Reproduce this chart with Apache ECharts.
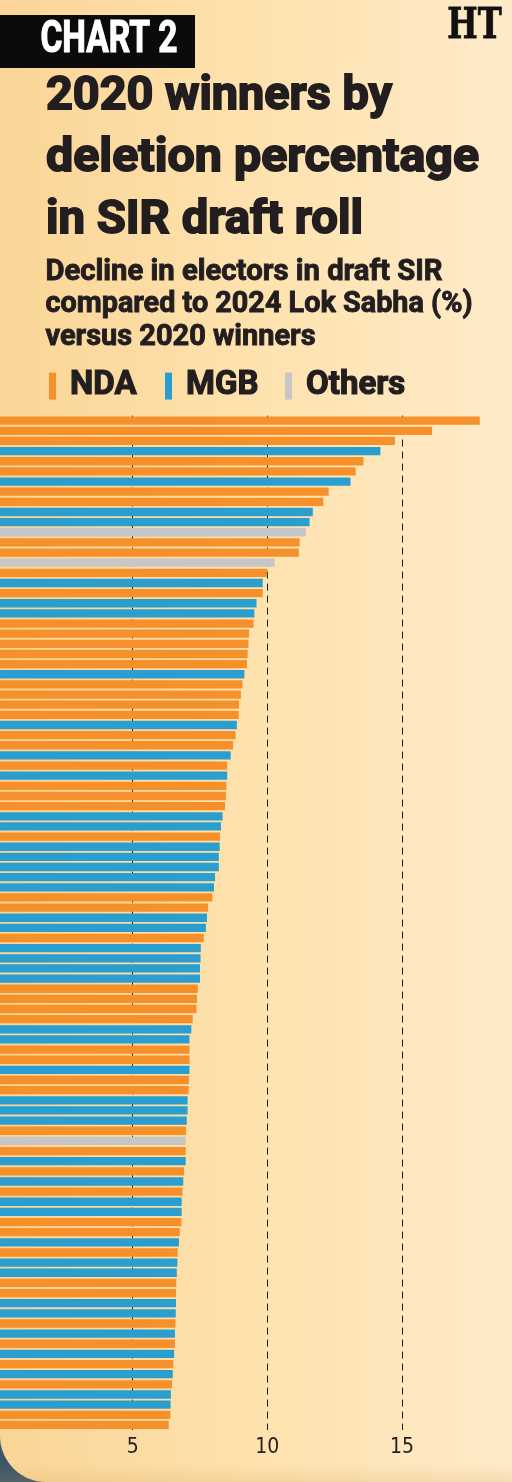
<!DOCTYPE html>
<html>
<head>
<meta charset="utf-8">
<script src="https://cdn.jsdelivr.net/npm/echarts@6/dist/echarts.min.js"></script>
<style>
html,body{margin:0;padding:0;background:#3d566a;}
#chart{width:512px;height:1482px;}
</style>
</head>
<body>
<div id="chart"></div>
<script>
// ---- data ----
const values = [
  17.89,16.12,14.74,14.2,13.57,13.28,13.09,12.28,12.08,11.69,
  11.57,11.43,11.2,11.17,10.27,10.0,9.83,9.83,9.6,9.52,
  9.49,9.32,9.3,9.27,9.25,9.15,9.08,9.02,8.95,8.94,
  8.87,8.82,8.73,8.64,8.51,8.51,8.48,8.46,8.43,8.34,
  8.28,8.24,8.23,8.2,8.2,8.06,8.02,7.96,7.8,7.76,
  7.72,7.64,7.53,7.52,7.5,7.5,7.42,7.39,7.37,7.23,
  7.18,7.11,7.11,7.11,7.11,7.09,7.08,7.04,7.04,7.01,
  6.98,6.97,6.97,6.97,6.91,6.88,6.85,6.82,6.82,6.81,
  6.75,6.72,6.67,6.66,6.64,6.62,6.61,6.61,6.6,6.59,
  6.57,6.57,6.54,6.51,6.49,6.46,6.42,6.41,6.4,6.34
];
// N = NDA, M = MGB, O = Others (one code per bar, top to bottom)
const allianceCodes = (
  "NNNMNNMNNMMONNONMNMM" +
  "NNNNNMNNNN" + "MNNMNMNNNM" + "MNMMMMMNNM" + "MNMMMMNNNN" +
  "MMNNMNNMMM" + "NONMNMNMMN" + "NMNMMNNMMN" + "MNMNMNMMNN"
).split('');
const categories = values.map((_, i) => 'Seat ' + (i + 1));
const groupNames = ['NDA', 'MGB', 'Others'];
const groupCodes = ['N', 'M', 'O'];
const groupColors = ['#f6902b', '#2a9ecf', '#c6c6c6'];
const xTicks = [5, 10, 15];
const headerLabel = 'CHART 2';
const logoText = 'HT';
const titleLines = ['2020 winners by', 'deletion percentage', 'in SIR draft roll'];
const subtitleLines = ['Decline in electors in draft SIR', 'compared to 2024 Lok Sabha (%)', 'versus 2020 winners'];

// ---- helpers ----
const measureCtx = document.createElement('canvas').getContext('2d');
function fitText(text, left, centerY, targetW, size, family, weight, fill, strokeW) {
  const font = weight + ' ' + size + 'px ' + family;
  measureCtx.font = font;
  const w = (measureCtx.measureText(text).width || targetW) + (strokeW || 0);
  const style = {
    text: text, x: (strokeW || 0) / 2, y: 0, font: font, fill: fill,
    align: 'left', verticalAlign: 'middle', textAlign: 'left', textVerticalAlign: 'middle'
  };
  if (strokeW) { style.stroke = fill; style.lineWidth = strokeW; }
  return { type: 'text', x: left, y: centerY, scaleX: targetW / w, z: 10, style: style };
}
const TXT = '#221e1f';
const HEAD = 'Roboto, "Open Sans", sans-serif';

const graphics = [
  { type: 'rect', z: -10, shape: { x: 0, y: 0, width: 512, height: 1482, r: [0, 0, 0, 46] },
    style: { fill: { type: 'linear', x: 0, y: 0, x2: 1, y2: 0, colorStops: [
      { offset: 0, color: '#fbd597' }, { offset: 0.5, color: '#fee2ae' }, { offset: 1, color: '#feebc9' } ] } } },
  { type: 'rect', z: -9, shape: { x: 0, y: 1464, width: 512, height: 18 },
    style: { fill: { type: 'linear', x: 0, y: 0, x2: 0, y2: 1, colorStops: [
      { offset: 0, color: 'rgba(200,150,80,0)' }, { offset: 1, color: 'rgba(200,150,80,0.18)' } ] } } },
  { type: 'rect', z: 5, shape: { x: 0, y: 15, width: 195, height: 53 }, style: { fill: '#0b0b0b' } },
  fitText(headerLabel, 40, 41, 138, 44, HEAD, 'bold', '#ffffff', 1.2),
  fitText(logoText, 447, 27, 55, 42, '"DejaVu Serif", serif', 'bold', '#111111', 0.8),
  fitText(titleLines[0], 45, 97.5, 348, 46, HEAD, 'bold', TXT, 1.8),
  fitText(titleLines[1], 45, 159.5, 435, 46, HEAD, 'bold', TXT, 1.8),
  fitText(titleLines[2], 45, 221.5, 319, 46, HEAD, 'bold', TXT, 1.8),
  fitText(subtitleLines[0], 45, 272.5, 398, 29, HEAD, 'bold', TXT, 0.9),
  fitText(subtitleLines[1], 45, 304.8, 428, 29, HEAD, 'bold', TXT, 0.9),
  fitText(subtitleLines[2], 45, 337.5, 271, 29, HEAD, 'bold', TXT, 0.9)
];

const legendLefts = [49, 165, 285];
const legends = groupNames.map((name, i) => ({
  data: [name], left: legendLefts[i], top: 369, padding: 0,
  icon: 'rect', itemWidth: 7, itemHeight: 27, selectedMode: false,
  textStyle: {
    fontSize: 33, fontWeight: 'bold', fontFamily: HEAD, color: TXT,
    textBorderColor: TXT, textBorderWidth: 1.2, padding: [0, 0, 0, 9]
  }
}));

const series = groupNames.map((name, gi) => ({
  name: name, type: 'bar', barGap: '-100%', barCategoryGap: '18%',
  itemStyle: { color: groupColors[gi] },
  emphasis: { disabled: true },
  data: values.map((v, i) => allianceCodes[i] === groupCodes[gi] ? v : '-')
}));

const chart = echarts.init(document.getElementById('chart'), null, { renderer: 'canvas' });
chart.setOption({
  backgroundColor: '#3d566a',
  animation: false,
  legend: legends,
  graphic: graphics,
  grid: { left: -2, right: -24.6, top: 415.6, bottom: 52, containLabel: false, outerBoundsMode: 'none' },
  xAxis: {
    type: 'value', min: 0, max: 20, interval: 5,
    axisLine: { show: false }, axisTick: { show: false },
    splitLine: { show: true, lineStyle: { color: '#1b1b1b', width: 1, type: [7, 5] } },
    axisLabel: {
      margin: 7, fontSize: 21, color: TXT,
      fontFamily: '"Liberation Sans Narrow", "DejaVu Sans Condensed", Roboto, sans-serif',
      formatter: v => xTicks.indexOf(v) >= 0 ? String(v) : ''
    }
  },
  yAxis: {
    type: 'category', data: categories, inverse: true,
    axisLine: { show: false }, axisTick: { show: false }, axisLabel: { show: false }, splitLine: { show: false }
  },
  series: series
});
</script>
</body>
</html>
